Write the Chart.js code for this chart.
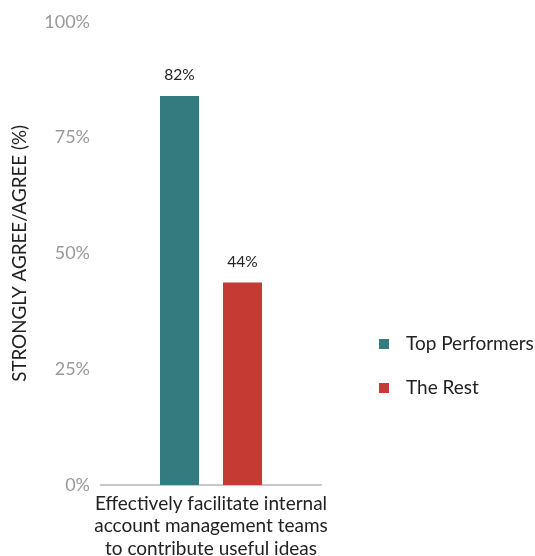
<!DOCTYPE html>
<html>
<head>
<meta charset="utf-8">
<script src="https://cdn.jsdelivr.net/npm/chart.js@4"></script>
<style>
  html, body { margin: 0; padding: 0; background: #fff; }
  #wrap { width: 535px; height: 556px; }
</style>
</head>
<body>
<div id="wrap"><canvas id="myChart"></canvas></div>
<script>
// data
const categories = [["Effectively facilitate internal", "account management teams", "to contribute useful ideas"]];
const seriesNames = ["Top Performers", "The Rest"];
const topPerformers = [84];
const theRest = [43.7];
const valueLabels = [["82%"], ["44%"]];
const yTicks = [0, 25, 50, 75, 100];
const colors = ["#347b7f", "#c53a33"];

const FONT = "Lato, 'Open Sans', sans-serif";

// labels over the bars
const valueLabelPlugin = {
  id: 'valueLabels',
  afterDatasetsDraw(chart) {
    const ctx = chart.ctx;
    ctx.save();
    ctx.font = "15.5px " + FONT;
    ctx.fillStyle = "#222";
    ctx.textAlign = "center";
    ctx.textBaseline = "middle";
    chart.data.datasets.forEach((ds, i) => {
      chart.getDatasetMeta(i).data.forEach((bar, j) => {
        ctx.fillText(valueLabels[i][j], bar.x, bar.y - 21);
      });
    });
    ctx.restore();
  }
};

// legend on the right side
const sideLegendPlugin = {
  id: 'sideLegend',
  afterDraw(chart) {
    const ctx = chart.ctx;
    ctx.save();
    ctx.font = "19px " + FONT;
    ctx.textBaseline = "middle";
    chart.data.datasets.forEach((ds, i) => {
      const y = 344 + i * 44;
      ctx.fillStyle = ds.backgroundColor;
      ctx.fillRect(379, y - 5, 10, 10);
      ctx.fillStyle = "#222";
      ctx.fillText(ds.label, 406, y);
    });
    ctx.restore();
  }
};

new Chart(document.getElementById('myChart'), {
  type: 'bar',
  data: {
    labels: categories,
    datasets: [
      { label: seriesNames[0], data: topPerformers, backgroundColor: colors[0] },
      { label: seriesNames[1], data: theRest, backgroundColor: colors[1] },
    ],
  },
  options: {
    responsive: true,
    maintainAspectRatio: false,
    animation: false,
    layout: { padding: { top: 10, right: 214, bottom: 0, left: 0 } },
    datasets: { bar: { categoryPercentage: 0.573, barPercentage: 0.619 } },
    plugins: {
      legend: { display: false },
      tooltip: { enabled: false },
    },
    scales: {
      x: {
        afterFit: axis => { axis.height = 71; },
        grid: { display: false, drawTicks: false },
        border: { color: "#c8c8c8", width: 2 },
        ticks: { color: "#222", font: { family: FONT, size: 19, lineHeight: 1.2 }, padding: 7 },
      },
      y: {
        min: 0,
        max: 100,
        afterFit: axis => { axis.width = 101; },
        afterBuildTicks: axis => { axis.ticks = yTicks.map(v => ({ value: v })); },
        grid: { display: false, drawTicks: false },
        border: { display: false },
        ticks: {
          color: "#999",
          font: { family: FONT, size: 18 },
          padding: 11,
          callback: v => v + "%",
        },
        title: {
          display: true,
          text: "STRONGLY AGREE/AGREE (%)",
          color: "#222",
          font: { family: FONT, size: 18.8 },
          padding: { top: 9, bottom: 0 },
        },
      },
    },
  },
  plugins: [valueLabelPlugin, sideLegendPlugin],
});
</script>
</body>
</html>
